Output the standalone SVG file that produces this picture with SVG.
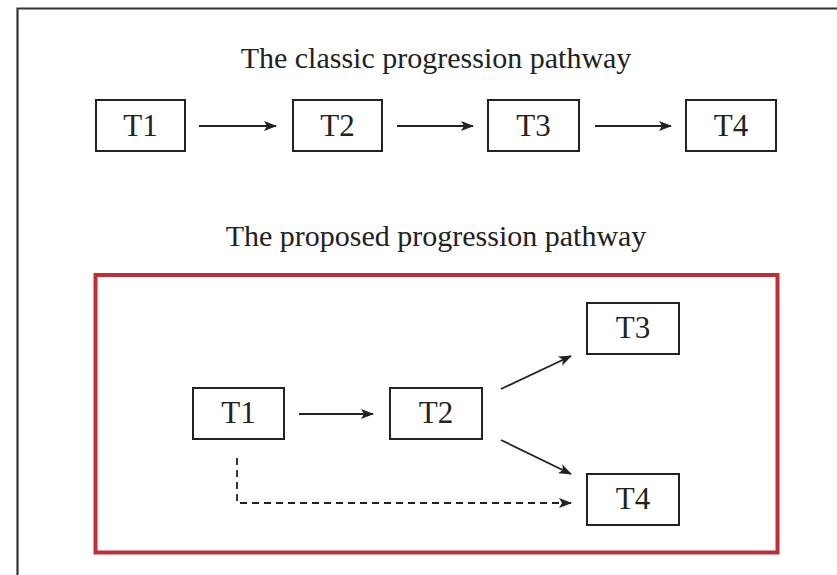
<svg xmlns="http://www.w3.org/2000/svg" width="837" height="575" viewBox="0 0 837 575">
<defs>
<style>
.box{fill:#fff;stroke:#222;stroke-width:2}
.lbl{font-family:"Liberation Serif","Times New Roman",serif;font-size:31px;fill:#222;text-anchor:middle}
.ttl{font-family:"Liberation Serif","Times New Roman",serif;font-size:30px;fill:#222;text-anchor:middle}
.edge{fill:none;stroke:#222;stroke-width:1.8}
.dash{stroke-dasharray:7,5}
</style>
<marker id="ah" markerUnits="userSpaceOnUse" markerWidth="14" markerHeight="12" refX="12" refY="5" orient="auto">
<path d="M0,0 L13,5 L0,10 L3,5 Z" fill="#222"/>
</marker>
</defs>
<rect width="837" height="575" fill="#fff"/>
<path d="M17.5,580 V8.5 H840" fill="none" stroke="#333" stroke-width="2.2"/>
<text class="ttl" x="436" y="68">The classic progression pathway</text>
<text class="ttl" x="436" y="246">The proposed progression pathway</text>
<rect x="95.5" y="275" width="682" height="277.5" fill="none" stroke="#bf2f38" stroke-width="4"/>
<g id="edges">
<line class="edge" x1="199" y1="126" x2="276" y2="126" marker-end="url(#ah)"/>
<line class="edge" x1="397" y1="126" x2="473" y2="126" marker-end="url(#ah)"/>
<line class="edge" x1="595" y1="126" x2="671" y2="126" marker-end="url(#ah)"/>
<line class="edge" x1="299" y1="414" x2="373" y2="414" marker-end="url(#ah)"/>
<line class="edge" x1="501" y1="389" x2="571" y2="356" marker-end="url(#ah)"/>
<line class="edge" x1="501" y1="440" x2="571" y2="474" marker-end="url(#ah)"/>
<path class="edge dash" d="M237,458 V503 H571" marker-end="url(#ah)"/>
</g>
<g id="c-t1"><rect class="box" x="96" y="100" width="89" height="51"/><text class="lbl" x="140.5" y="136">T1</text></g>
<g id="c-t2"><rect class="box" x="293" y="100" width="89" height="51"/><text class="lbl" x="337.5" y="136">T2</text></g>
<g id="c-t3"><rect class="box" x="488" y="100" width="91" height="51"/><text class="lbl" x="533.5" y="136">T3</text></g>
<g id="c-t4"><rect class="box" x="686" y="100" width="90" height="51"/><text class="lbl" x="731" y="136">T4</text></g>
<g id="p-t1"><rect class="box" x="193" y="388" width="91" height="51"/><text class="lbl" x="238.5" y="423">T1</text></g>
<g id="p-t2"><rect class="box" x="390" y="388" width="92" height="51"/><text class="lbl" x="436" y="423">T2</text></g>
<g id="p-t3"><rect class="box" x="587" y="303" width="92" height="51"/><text class="lbl" x="633" y="338">T3</text></g>
<g id="p-t4"><rect class="box" x="587" y="474" width="92" height="51"/><text class="lbl" x="633" y="509">T4</text></g>
</svg>
